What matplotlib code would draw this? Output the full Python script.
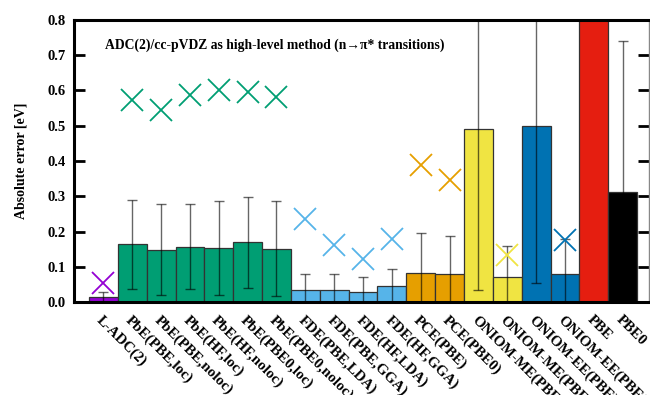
import numpy as np
import matplotlib
matplotlib.use("Agg")
import matplotlib.pyplot as plt

plt.rcParams['font.family'] = ['Liberation Serif', 'DejaVu Serif']
plt.rcParams['font.weight'] = 'bold'

# methods shown on the x axis
labels = ["L-ADC(2)", "PbE(PBE,loc)", "PbE(PBE,noloc)", "PbE(HF,loc)", "PbE(HF,noloc)",
          "PbE(PBE0,loc)", "PbE(PBE0,noloc)", "FDE(PBE,LDA)", "FDE(PBE,GGA)",
          "FDE(HF,LDA)", "FDE(HF,GGA)", "PCE(PBE)", "PCE(PBE0)",
          "ONIOM-ME(PBE)*", "ONIOM-ME(PBE0)*", "ONIOM-EE(PBE)*", "ONIOM-EE(PBE0)*",
          "PBE", "PBE0"]
# mean absolute error (bars)
mae = [0.014, 0.165, 0.148, 0.157, 0.153, 0.169, 0.151, 0.033, 0.035, 0.029, 0.046,
       0.082, 0.079, 0.491, 0.072, 0.499, 0.079, 1.0, 0.311]
# error bar ends (low / high)
err_lo = [-0.02, 0.038, 0.020, 0.037, 0.020, 0.040, 0.016, -0.02, -0.02, -0.02, -0.02,
          -0.03, -0.03, 0.034, -0.02, 0.053, -0.02, np.nan, -0.12]
err_hi = [0.028, 0.289, 0.277, 0.279, 0.287, 0.299, 0.286, 0.080, 0.079, 0.070, 0.095,
          0.197, 0.188, 1.0, 0.159, 0.95, 0.178, np.nan, 0.741]
# maximum error (crosses)
maxerr = [0.055, 0.574, 0.546, 0.586, 0.600, 0.595, 0.582, 0.236, 0.161, 0.122, 0.180,
          0.388, 0.345, np.nan, 0.134, np.nan, 0.176, np.nan, np.nan]
colors = ["#9400D3"] + ["#009E73"] * 6 + ["#56B4E9"] * 4 + ["#E69F00"] * 2 + \
         ["#F0E442"] * 2 + ["#0072B2"] * 2 + ["#E51E10", "#000000"]

x = np.arange(len(labels))
mae = np.array(mae)
lo = mae - np.array(err_lo)
hi = np.array(err_hi) - mae

fig = plt.figure(figsize=(6.5, 3.95), dpi=100)
ax = fig.add_axes([0.1138, 0.2354, 0.885, 0.714])

ax.bar(x, mae, width=1.0, color=colors, edgecolor="#333333", linewidth=0.9, zorder=2)
ax.errorbar(x, mae, yerr=[lo, hi], fmt="none", ecolor="black", alpha=0.6,
            elinewidth=1.0, capsize=3.6, capthick=1.0, zorder=3)
for xi, m, c in zip(x, maxerr, colors):
    ax.plot(xi, m, marker="x", color=c, markersize=16, markeredgewidth=1.3,
            linestyle="none", zorder=4)

ax.set_xlim(-1.02, 18.92)
ax.set_ylim(0, 0.8)
ax.set_yticks(np.arange(0, 0.81, 0.1))
ax.set_yticklabels(["%.1f" % v for v in np.arange(0, 0.81, 0.1)], fontsize=10.5,
                   fontweight="bold")
ax.tick_params(axis="y", direction="in", length=8, width=2, right=True, pad=6)
ax.set_xticks(x)
ax.set_xticklabels(labels, rotation=-45, ha="left", va="top", rotation_mode="anchor",
                   fontsize=10.8, fontweight="bold")
ax.tick_params(axis="x", length=0, pad=8)
for s in ["left", "bottom", "top"]:
    ax.spines[s].set_linewidth(2.2)
ax.spines["right"].set_linewidth(1.0)
ax.spines["right"].set_color("#888888")

ax.set_ylabel("Absolute error [eV]", fontsize=10, fontweight="bold", labelpad=14)
ax.text(0.054, 0.91, "ADC(2)/cc-pVDZ as high-level method (n\u2192\u03c0* transitions)",
        transform=ax.transAxes, fontsize=9.8, fontweight="bold", va="center", ha="left")

fig.savefig("out.png", dpi=100)
